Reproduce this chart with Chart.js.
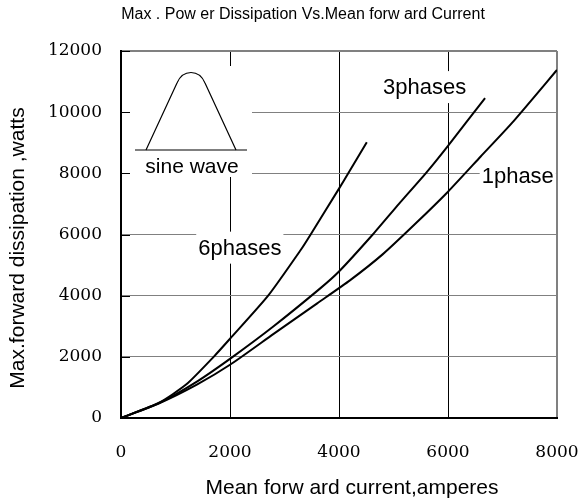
<!DOCTYPE html>
<html>
<head>
<meta charset="utf-8">
<script src="https://cdn.jsdelivr.net/npm/chart.js@4/dist/chart.umd.min.js"></script>
<style>
  html, body { margin: 0; padding: 0; background: #fff; }
  #wrap { width: 584px; height: 501px; }
</style>
</head>
<body>
<div id="wrap"><canvas id="powerChart" width="584" height="501"></canvas></div>
<script>
const xTicks = [0, 2000, 4000, 6000, 8000];
const yTicks = [0, 2000, 4000, 6000, 8000, 10000, 12000];

const phase1Current = [0, 700, 1400, 2000, 2800, 3600, 4200, 4800, 5400, 6000, 6600, 7200, 8000];
const phase1Power = [0, 480, 1100, 1740, 2750, 3750, 4500, 5350, 6350, 7400, 8550, 9700, 11380];

const phase3Current = [0, 700, 1400, 2050, 2800, 3650, 4000, 4620, 5100, 5610, 6000, 6680];
const phase3Power = [0, 490, 1200, 2000, 3000, 4230, 4790, 6000, 7000, 8040, 8900, 10460];

const phase6Current = [0, 700, 1200, 1700, 2000, 2700, 3300, 3480, 4000, 4170, 4510];
const phase6Power = [0, 500, 1100, 2000, 2590, 4000, 5500, 6000, 7500, 8000, 9020];

// curve labels: [text, x, y] in data units
const curveLabels = [
    ['3phases', 5570, 10820],
    ['1phase', 7280, 7930],
    ['6phases', 2180, 5570]
];

const chartTitle = 'Max . Pow er Dissipation Vs.Mean forw ard Current';
const xTitle = 'Mean forw ard current,amperes';
const yTitle = 'Max.forward dissipation ,watts';
const insetText = 'sine wave';

function toPoints(xs, ys) {
    return xs.map((x, i) => ({ x: x, y: ys[i] }));
}

const sansFont = '"Liberation Sans", Arial, sans-serif';

const decorations = {
    id: 'decorations',
    beforeDatasetsDraw(chart) {
        const ctx = chart.ctx;
        const area = chart.chartArea;
        const xs = chart.scales.x;
        const ys = chart.scales.y;
        ctx.save();

        // sine wave inset box
        const bx = area.left + 9, by = area.top + 15;
        ctx.fillStyle = '#fff';
        ctx.fillRect(bx, by, 122, 111);

        ctx.strokeStyle = '#000';
        ctx.lineWidth = 1.2;
        ctx.beginPath();
        ctx.moveTo(bx + 5, by + 84);
        ctx.lineTo(bx + 117, by + 84);
        ctx.stroke();
        ctx.beginPath();
        ctx.moveTo(bx + 16, by + 84);
        ctx.lineTo(bx + 47, by + 17);
        ctx.bezierCurveTo(bx + 53, by + 3, bx + 69, by + 3, bx + 75, by + 17);
        ctx.lineTo(bx + 106, by + 84);
        ctx.stroke();

        ctx.fillStyle = '#000';
        ctx.font = '21px ' + sansFont;
        ctx.textAlign = 'center';
        ctx.textBaseline = 'middle';
        ctx.fillText(insetText, bx + 62, by + 101);

        // curve labels with white backing
        ctx.font = '22px ' + sansFont;
        curveLabels.forEach(([text, vx, vy]) => {
            const px = xs.getPixelForValue(vx);
            const py = ys.getPixelForValue(vy);
            const w = ctx.measureText(text).width + 4;
            ctx.fillStyle = '#fff';
            ctx.fillRect(px - w / 2, py - 16, w, 32);
            ctx.fillStyle = '#000';
            ctx.fillText(text, px, py + 1);
        });

        // short inward ticks on the left axis
        ctx.strokeStyle = '#000';
        ctx.lineWidth = 1;
        yTicks.forEach(v => {
            const py = Math.round(ys.getPixelForValue(v)) + 0.5;
            ctx.beginPath();
            ctx.moveTo(area.left, py);
            ctx.lineTo(area.left + 9, py);
            ctx.stroke();
        });
        ctx.restore();
    },
    afterDraw(chart) {
        const ctx = chart.ctx;
        ctx.save();
        ctx.fillStyle = '#000';
        ctx.textAlign = 'center';
        ctx.textBaseline = 'middle';

        ctx.font = '16px ' + sansFont;
        ctx.fillText(chartTitle, 303, 15);

        ctx.font = '21px ' + sansFont;
        ctx.fillText(xTitle, 352, 488);

        ctx.translate(18, 248);
        ctx.rotate(-Math.PI / 2);
        ctx.fillText(yTitle, 0, 0);
        ctx.restore();
    }
};

const lineStyle = {
    borderColor: '#000',
    borderWidth: 2,
    pointRadius: 0,
    fill: false,
    tension: 0.2
};

function noOverflow(scale) {
    scale.paddingLeft = 0;
    scale.paddingRight = 0;
    scale.paddingTop = 0;
    scale.paddingBottom = 0;
}

new Chart(document.getElementById('powerChart').getContext('2d'), {
    type: 'line',
    data: {
        datasets: [
            Object.assign({ label: '1phase', data: toPoints(phase1Current, phase1Power) }, lineStyle),
            Object.assign({ label: '3phases', data: toPoints(phase3Current, phase3Power) }, lineStyle),
            Object.assign({ label: '6phases', data: toPoints(phase6Current, phase6Power) }, lineStyle)
        ]
    },
    options: {
        responsive: false,
        animation: false,
        layout: { padding: { left: 0, right: 27, top: 51, bottom: 0 } },
        plugins: {
            legend: { display: false },
            tooltip: { enabled: false },
            title: { display: false }
        },
        scales: {
            x: {
                type: 'linear',
                min: 0,
                max: 8000,
                afterBuildTicks: scale => { scale.ticks = xTicks.map(v => ({ value: v })); },
                afterFit: scale => { scale.height = 83; noOverflow(scale); },
                ticks: {
                    padding: 24,
                    color: '#000',
                    font: { family: '"DejaVu Serif", serif', size: 17 },
                    callback: v => String(v)
                },
                grid: {
                    drawTicks: false,
                    color: c => (c.tick && c.tick.value === 8000) ? '#808080' : '#000',
                    lineWidth: c => (c.tick && c.tick.value === 8000) ? 2 : 1
                },
                border: { color: '#000', width: 2 }
            },
            y: {
                type: 'linear',
                min: 0,
                max: 12000,
                afterBuildTicks: scale => { scale.ticks = yTicks.map(v => ({ value: v })); },
                afterFit: scale => { scale.width = 121; noOverflow(scale); },
                ticks: {
                    padding: 19,
                    color: '#000',
                    font: { family: '"DejaVu Serif", serif', size: 17 },
                    callback: v => String(v)
                },
                grid: {
                    drawTicks: false,
                    color: '#808080',
                    lineWidth: c => (c.tick && c.tick.value === 12000) ? 2 : 1
                },
                border: { color: '#000', width: 2 }
            }
        }
    },
    plugins: [decorations]
});
</script>
</body>
</html>
